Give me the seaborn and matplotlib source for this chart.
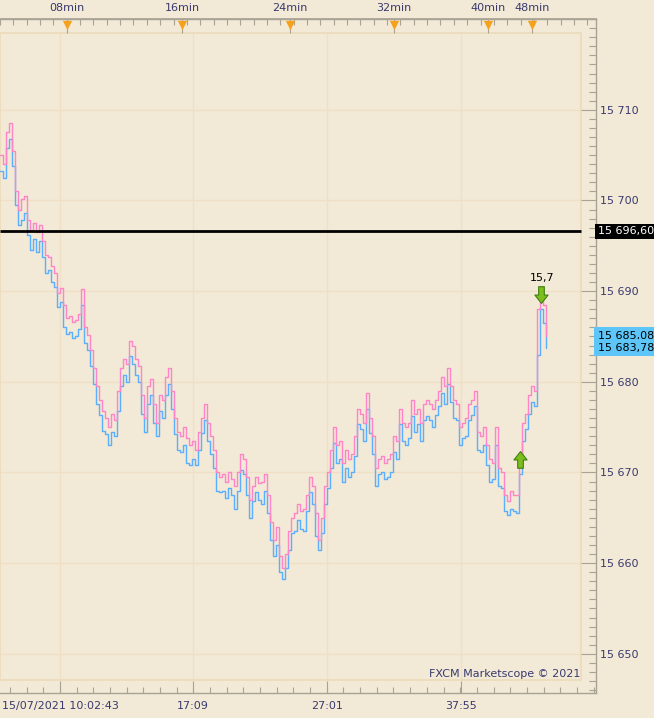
import numpy as np
import pandas as pd
import seaborn as sns
import matplotlib.pyplot as plt
from matplotlib.path import Path
from matplotlib.patches import Rectangle
from matplotlib.ticker import FuncFormatter, MultipleLocator, FixedLocator

# ask (pink) and bid (blue) prices, one value per tick index
ask = [15705.0, 15704.0, 15707.5, 15708.6, 15705.5, 15701.0, 15699.0, 15700.2, 15700.5, 15697.8,
       15696.8, 15697.5, 15696.5, 15697.3, 15695.5, 15694.0, 15693.8, 15692.8, 15692.0, 15689.8,
       15690.3, 15688.5, 15687.0, 15687.3, 15686.6, 15686.8, 15687.5, 15690.2, 15686.0, 15685.2,
       15683.5, 15681.5, 15679.5, 15678.0, 15676.8, 15676.0, 15675.0, 15676.5, 15675.8, 15679.0,
       15681.5, 15682.5, 15682.0, 15684.5, 15684.0, 15682.5, 15681.8, 15678.5, 15676.0, 15679.5,
       15680.3, 15677.5, 15675.5, 15678.5, 15678.0, 15680.5, 15681.5, 15679.0, 15676.0, 15674.5,
       15674.0, 15675.0, 15673.8, 15673.0, 15673.5, 15672.5, 15674.5, 15676.0, 15677.5, 15675.5,
       15674.0, 15672.5, 15670.0, 15669.5, 15669.8, 15669.0, 15670.0, 15669.3, 15668.5, 15670.0,
       15672.0, 15671.5, 15669.5, 15667.0, 15668.5, 15669.5, 15668.8, 15669.0, 15669.8, 15667.5,
       15664.5, 15662.5, 15664.0, 15660.8, 15659.5, 15661.0, 15663.5, 15665.0, 15665.5, 15666.5,
       15665.8, 15666.0, 15667.5, 15669.5, 15668.5, 15665.5, 15662.5, 15665.0, 15668.5, 15670.0,
       15672.5, 15675.0, 15673.0, 15673.5, 15671.0, 15672.5, 15671.5, 15672.0, 15674.0, 15677.0,
       15676.5, 15675.5, 15678.8, 15676.0, 15674.0, 15670.5, 15671.5, 15671.8, 15671.0, 15671.5,
       15672.0, 15674.0, 15673.5, 15677.0, 15675.5, 15675.0, 15675.5, 15678.0, 15676.5, 15677.0,
       15675.5, 15677.5, 15678.0, 15677.5, 15677.0, 15678.0, 15679.0, 15680.5, 15679.5, 15681.5,
       15679.5, 15678.0, 15677.5, 15675.0, 15675.5, 15676.0, 15677.5, 15678.0, 15679.0, 15674.5,
       15674.0, 15675.0, 15673.0, 15671.5, 15671.0, 15675.0, 15670.5, 15670.0, 15667.5, 15666.8,
       15668.0, 15667.5, 15667.5, 15671.5, 15675.5, 15676.5, 15678.5, 15679.5, 15679.0, 15688.0,
       15689.8, 15688.5, 15685.08]

bid = [15703.3, 15702.5, 15705.8, 15706.8, 15703.8, 15699.5, 15697.3, 15697.8, 15698.6, 15696.2,
       15694.5, 15695.8, 15694.3, 15695.5, 15693.8, 15692.0, 15692.3, 15691.0, 15690.5, 15688.2,
       15688.8, 15686.0, 15685.3, 15685.5, 15684.8, 15685.0, 15685.8, 15688.5, 15684.3, 15683.5,
       15681.8, 15679.8, 15677.5, 15676.3, 15674.6, 15674.2, 15673.0, 15674.5, 15674.0, 15676.8,
       15679.5, 15680.8, 15680.0, 15682.8, 15682.0, 15680.8, 15680.0, 15676.5, 15674.5, 15677.5,
       15678.5, 15675.5, 15674.0, 15676.8, 15676.0, 15678.5, 15679.8, 15677.0, 15674.2, 15672.5,
       15672.3, 15673.0, 15671.0, 15670.8, 15671.5, 15670.8, 15672.5, 15674.3, 15675.8, 15673.5,
       15672.0, 15670.5, 15668.0, 15667.8, 15668.0, 15667.2, 15668.3, 15667.5, 15666.0, 15668.0,
       15670.3, 15669.8, 15667.5, 15665.0, 15666.8, 15667.8, 15667.0, 15666.5, 15668.0, 15665.5,
       15662.5, 15660.8, 15662.0, 15659.0, 15658.3, 15659.5, 15661.5, 15663.3, 15663.5, 15664.8,
       15663.8, 15663.5, 15665.8, 15667.8, 15666.5, 15663.0, 15661.5, 15663.3, 15666.5, 15668.3,
       15670.5, 15673.3, 15671.0, 15671.5, 15669.0, 15670.5, 15669.5, 15670.0, 15671.8, 15675.3,
       15674.8, 15673.5, 15677.0, 15674.3, 15672.0, 15668.5, 15669.8, 15670.0, 15669.3, 15669.5,
       15670.0, 15672.3, 15671.5, 15675.3, 15673.5, 15673.0, 15673.8, 15676.2, 15674.5, 15675.3,
       15673.5, 15675.8, 15676.2, 15675.8, 15675.0, 15676.3, 15677.3, 15678.8, 15677.5, 15679.8,
       15677.8, 15676.0, 15675.8, 15673.0, 15673.8, 15674.0, 15675.8, 15676.3, 15677.3, 15672.5,
       15672.3, 15673.0, 15670.8, 15669.0, 15669.3, 15673.0, 15668.5, 15668.3, 15665.8, 15665.3,
       15666.0, 15665.8, 15665.5, 15669.8, 15673.5, 15674.8, 15676.5, 15677.8, 15677.3, 15683.0,
       15688.0, 15686.5, 15683.78]

hline_level = 15696.60

# time labels (tick index positions)
bottom_tick_pos = [20.0, 64.3, 109.0, 153.7]
bottom_tick_labels = ["15/07/2021 10:02:43", "17:09", "27:01", "37:55"]
top_tick_pos = [22.3, 60.7, 96.7, 131.3, 162.7, 177.3]
top_tick_labels = ["08min", "16min", "24min", "32min", "40min", "48min"]

y_ticks = [15650, 15660, 15670, 15680, 15690, 15700, 15710]

# trade signals
signal_x = [173.3, 180.3]
signal_y = [15671.5, 15689.6]
signal_dir = ["up", "down"]
signal_text = "15,7"

BG = "#F2E9D6"
GRID = "#EFDFC4"
FRAME = "#ECDcbd"
TXT = "#3A3A6E"
SPINE = "#A9A396"
PINK = "#FF85C8"
BLUE = "#5AB0FF"

sns.set_theme(style="white", rc={"axes.facecolor": BG, "figure.facecolor": BG})
plt.rcParams["font.family"] = ["DejaVu Sans"]

df = pd.concat([
    pd.DataFrame({"tick": np.arange(len(bid)), "price": bid, "side": "bid"}),
    pd.DataFrame({"tick": np.arange(len(ask)), "price": ask, "side": "ask"}),
])

fig = plt.figure(figsize=(6.54, 7.18), dpi=100)
ax = fig.add_axes([0, 12.6 / 359, 596 / 654, 674 / 718])

xmax = 198.7
ymin, ymax = 15645.7, 15720.04
ax.set_xlim(0, xmax)
ax.set_ylim(ymin, ymax)

inner_r = 193.7
inner_b, inner_t = 15647.13, 15718.49

# grid lines within the inner frame
ax.hlines(y_ticks, 0, inner_r, color=GRID, lw=1.0, zorder=0)
ax.vlines(bottom_tick_pos, inner_b, inner_t, color=GRID, lw=1.0, zorder=0)
ax.add_patch(Rectangle((0, inner_b), inner_r, inner_t - inner_b, fill=False,
                       edgecolor=FRAME, lw=1.3, zorder=0.5))

sns.lineplot(data=df, x="tick", y="price", hue="side", hue_order=["bid", "ask"],
             palette={"bid": BLUE, "ask": PINK}, estimator=None, drawstyle="steps-post",
             linewidth=1.0, legend=False, ax=ax, zorder=2)

ax.hlines(hline_level, 0, inner_r, color="black", lw=2.0, zorder=3)

# arrows
def arrow_marker(direction):
    verts = [(-0.32, 1.0), (0.32, 1.0), (0.32, 0.05), (0.75, 0.05), (0.0, -0.9),
             (-0.75, 0.05), (-0.32, 0.05), (-0.32, 1.0)]
    if direction == "up":
        verts = [(vx, -vy) for vx, vy in verts]
    return Path(verts, closed=True)

for sx, sy, sd in zip(signal_x, signal_y, signal_dir):
    ax.scatter([sx], [sy], marker=arrow_marker(sd), s=160, color="#7DBE1F",
               edgecolor="#3F7F0E", linewidth=0.8, zorder=5)
ax.annotate(signal_text, (signal_x[1], signal_y[1]), xytext=(1, 12), textcoords="offset points",
            ha="center", va="center", fontsize=8, color="black", zorder=6)

# axes styling
ax.spines["left"].set_visible(False)
for side in ["top", "bottom", "right"]:
    ax.spines[side].set_color(SPINE)
    ax.spines[side].set_linewidth(1.0)

ax.set_xlabel("")
ax.set_ylabel("")
ax.yaxis.tick_right()
ax.set_yticks(y_ticks)
ax.yaxis.set_major_formatter(FuncFormatter(lambda v, p: f"{v:,.0f}".replace(",", " ")))
ax.yaxis.set_minor_locator(MultipleLocator(1))
ax.tick_params(axis="y", which="major", direction="in", length=10.5, width=0.8, color=SPINE,
               labelsize=8, labelcolor=TXT, pad=3, right=True, left=False)
ax.tick_params(axis="y", which="minor", direction="in", length=5, width=0.8, color=SPINE,
               right=True, left=False)

ax.set_xticks(bottom_tick_pos)
ax.set_xticklabels(bottom_tick_labels)
ax.xaxis.set_minor_locator(FixedLocator(np.arange(3.3, xmax, 5.56)))
ax.tick_params(axis="x", which="major", direction="in", length=9, width=0.8, color=SPINE,
               labelsize=8, labelcolor=TXT, pad=6)
ax.tick_params(axis="x", which="minor", direction="in", length=4, width=0.8, color=SPINE)

ax2 = ax.twiny()
ax2.set_xlim(0, xmax)
ax2.patch.set_visible(False)
for side in ["left", "right", "bottom"]:
    ax2.spines[side].set_visible(False)
ax2.spines["top"].set_color(SPINE)
ax2.set_xticks(top_tick_pos)
ax2.set_xticklabels(top_tick_labels)
ax2.xaxis.set_minor_locator(MultipleLocator(4.45))
ax2.tick_params(axis="x", which="major", direction="in", length=10, width=0.8, color=SPINE,
                labelsize=8, labelcolor=TXT, pad=4)
ax2.tick_params(axis="x", which="minor", direction="in", length=4, width=0.8, color=SPINE)
ax2.scatter(top_tick_pos, [0.9915] * len(top_tick_pos), marker="v", s=45, color="#F5A11C",
            transform=ax2.get_xaxis_transform(), clip_on=False, zorder=6, linewidth=0)

# price labels on the right
ytr = ax.get_yaxis_transform()
ax.text(1.003, hline_level, f"{hline_level:,.2f}".replace(",", " ").replace(".", ","),
        transform=ytr, ha="left", va="center", fontsize=8, color="white", clip_on=False,
        bbox=dict(boxstyle="square,pad=0.25", facecolor="black", edgecolor="none"), zorder=7)
for v in [ask[-1], bid[-1]]:
    ax.text(1.003, v, f"{v:,.2f}".replace(",", " ").replace(".", ","),
            transform=ytr, ha="left", va="center", fontsize=8, color="black", clip_on=False,
            bbox=dict(boxstyle="square,pad=0.3", facecolor="#5DC5F8", edgecolor="none"), zorder=7)

ax.text(0.973, 0.028, "FXCM Marketscope \u00a9 2021", transform=ax.transAxes, ha="right",
        va="center", fontsize=8, color=TXT, zorder=6)

fig.savefig("out.png", dpi=100, facecolor=BG)
